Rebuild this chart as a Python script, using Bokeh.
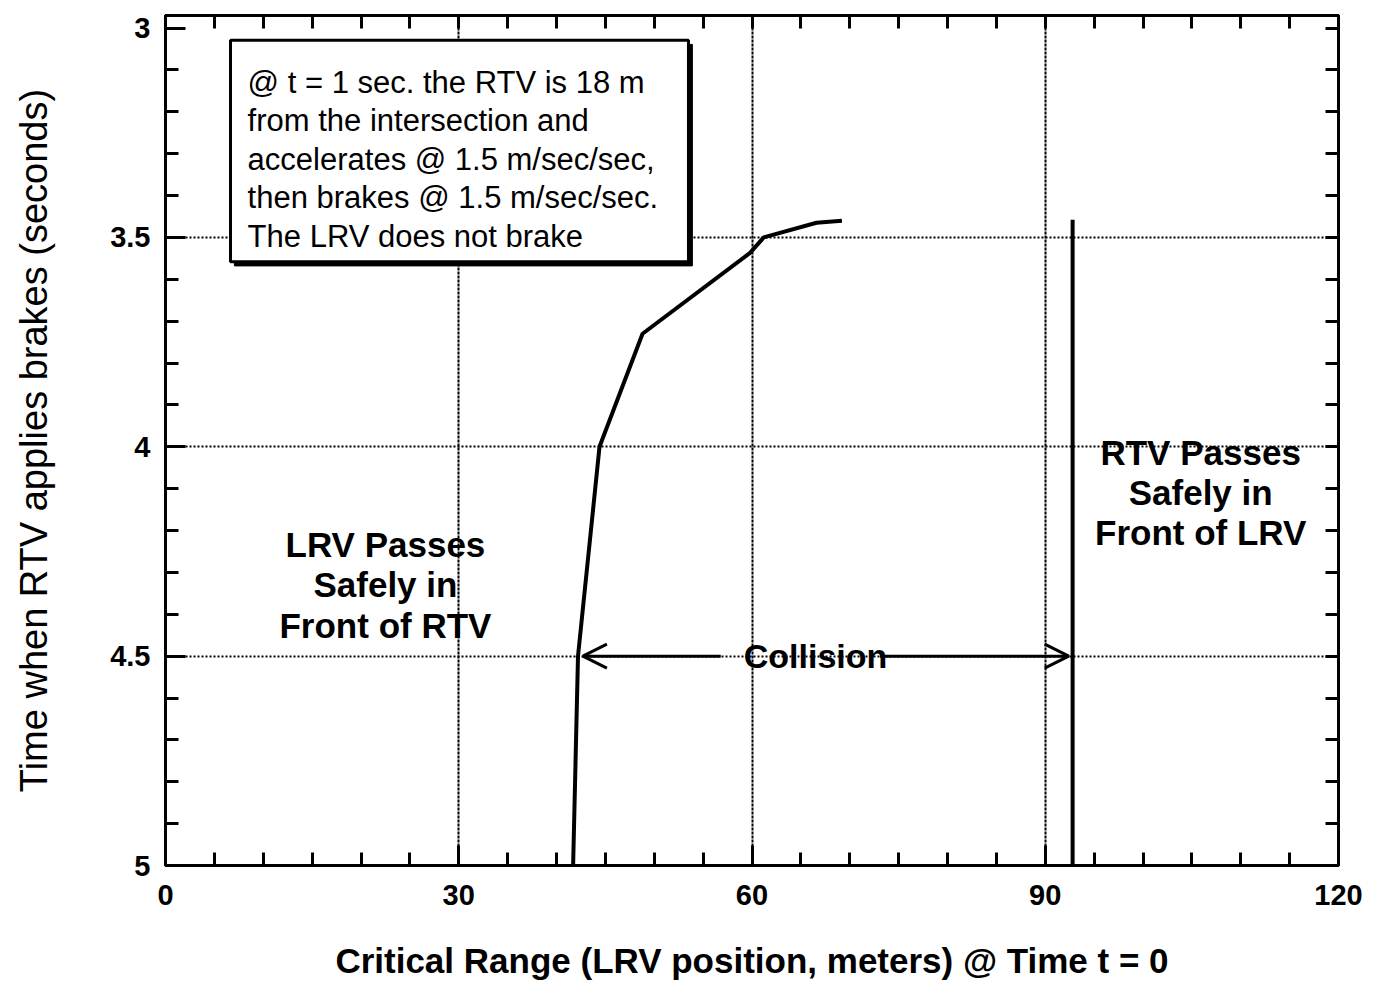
from bokeh.plotting import figure
from bokeh.models import Range1d, LinearAxis, FixedTicker, Arrow, OpenHead
from bokeh.core.properties import value
from bokeh.embed import file_html
from bokeh.resources import INLINE

# ---- data ----
x_ticks = [0, 30, 60, 90, 120]
x_tick_labels = ["0", "30", "60", "90", "120"]
x_minor = [5, 10, 15, 20, 25, 35, 40, 45, 50, 55, 65, 70, 75, 80, 85, 95, 100, 105, 110, 115]
y_ticks = [3, 3.5, 4, 4.5, 5]
y_tick_labels = ["3", "3.5", "4", "4.5", "5"]
y_minor = [3.1, 3.2, 3.3, 3.4, 3.6, 3.7, 3.8, 3.9, 4.1, 4.2, 4.3, 4.4, 4.6, 4.7, 4.8, 4.9]
grid_x = [30, 60, 90]
grid_y = [3.5, 4, 4.5]

# collision boundary (LRV passes safely / collision)
boundary_x = [41.7, 42.2, 44.4, 48.8, 59.8, 61.2, 66.6, 69.2]
boundary_y = [5.0, 4.5, 4.0, 3.73, 3.537, 3.5, 3.465, 3.46]
# collision boundary (RTV passes safely)
rtv_x = [92.8, 92.8]
rtv_y = [5.0, 3.458]

note_lines = ["@ t = 1 sec. the RTV is 18 m",
              "from the intersection and",
              "accelerates @ 1.5 m/sec/sec,",
              "then brakes @ 1.5 m/sec/sec.",
              "The LRV does not brake"]
note_box = dict(left=6.65, right=53.5, top=3.029, bottom=3.558)
shadow_dx, shadow_dy = 0.4, 0.01

FONT = "Liberation Sans"

p = figure(width=1368, height=983, output_backend="svg", toolbar_location=None,
           x_range=Range1d(0, 120), y_range=Range1d(5, 2.97),
           min_border_left=165, min_border_right=30, min_border_top=15,
           min_border_bottom=118)
p.background_fill_color = "white"
p.border_fill_color = "white"
p.outline_line_color = "black"
p.outline_line_width = 3

# axes
xt = FixedTicker(ticks=x_ticks, minor_ticks=x_minor)
yt = FixedTicker(ticks=y_ticks, minor_ticks=y_minor)

ax = p.xaxis[0]
ax.ticker = xt
ax.major_label_overrides = {t: l for t, l in zip(x_ticks, x_tick_labels)}
ax.axis_label = "Critical Range (LRV position, meters) @ Time t = 0"
ax.axis_label_text_font = FONT
ax.axis_label_text_font_style = "bold"
ax.axis_label_text_font_size = "35px"
ax.axis_label_text_color = "black"
ax.axis_label_standoff = 33
ax.major_label_text_font = FONT
ax.major_label_text_font_style = "bold"
ax.major_label_text_font_size = "29px"
ax.major_label_text_color = "black"
ax.major_label_standoff = 19

ay = p.yaxis[0]
ay.ticker = yt
ay.major_label_overrides = {t: l for t, l in zip(y_ticks, y_tick_labels)}
ay.axis_label = "Time when RTV applies brakes (seconds)"
ay.axis_label_text_font = FONT
ay.axis_label_text_font_style = "normal"
ay.axis_label_text_font_size = "38px"
ay.axis_label_text_color = "black"
ay.axis_label_standoff = 52
ay.major_label_text_font = FONT
ay.major_label_text_font_style = "bold"
ay.major_label_text_font_size = "29px"
ay.major_label_text_color = "black"
ay.major_label_standoff = 15

for a in (ax, ay):
    a.axis_line_width = 3
    a.axis_line_color = "black"
    a.major_tick_in = 20
    a.major_tick_out = 0
    a.minor_tick_in = 13
    a.minor_tick_out = 0
    a.major_tick_line_width = 3
    a.minor_tick_line_width = 3
    a.major_tick_line_color = "black"
    a.minor_tick_line_color = "black"

# top and right axes: tick marks only (no labels)
top_axis = LinearAxis(ticker=FixedTicker(ticks=[], minor_ticks=x_ticks + x_minor),
                      axis_line_width=3, major_tick_in=0, major_tick_out=0,
                      minor_tick_in=13, minor_tick_out=0,
                      minor_tick_line_width=3, major_label_standoff=0)
right_axis = LinearAxis(ticker=FixedTicker(ticks=[], minor_ticks=y_ticks + y_minor),
                        axis_line_width=3, major_tick_in=0, major_tick_out=0,
                        minor_tick_in=13, minor_tick_out=0,
                        minor_tick_line_width=3, major_label_standoff=0)
p.add_layout(top_axis, "above")
p.add_layout(right_axis, "right")

# grids
p.xgrid.ticker = FixedTicker(ticks=grid_x)
p.ygrid.ticker = FixedTicker(ticks=grid_y)
p.xgrid.grid_line_color = "black"
p.xgrid.grid_line_width = 2
p.xgrid.grid_line_dash = "3 1"
p.ygrid.grid_line_color = "black"
p.ygrid.grid_line_width = 2
p.ygrid.grid_line_dash = "2 2"

# curves
p.line(boundary_x, boundary_y, line_color="black", line_width=4)
p.line(rtv_x, rtv_y, line_color="black", line_width=4)

# note box with shadow
p.quad(left=[note_box["left"] + shadow_dx], right=[note_box["right"] + shadow_dx],
       top=[note_box["top"] + shadow_dy], bottom=[note_box["bottom"] + shadow_dy],
       fill_color="black", line_color="black")
p.quad(left=[note_box["left"]], right=[note_box["right"]],
       top=[note_box["top"]], bottom=[note_box["bottom"]],
       fill_color="white", line_color="black", line_width=3)
p.text(x=[8.4], y=[3.088], text=["\n".join(note_lines)],
       text_font=value(FONT), text_font_size="31px", text_color="black",
       text_align="left", text_baseline="top", text_line_height=1.1)

# region labels
p.text(x=[22.5], y=[4.33], text=["LRV Passes\nSafely in\nFront of RTV"],
       text_font=value(FONT), text_font_size="35px", text_font_style="bold",
       text_color="black", text_align="center", text_baseline="middle",
       text_line_height=1.03)
p.text(x=[105.9], y=[4.11], text=["RTV Passes\nSafely in\nFront of LRV"],
       text_font=value(FONT), text_font_size="35px", text_font_style="bold",
       text_color="black", text_align="center", text_baseline="middle",
       text_line_height=1.03)
p.text(x=[66.5], y=[4.5], text=["Collision"],
       text_font=value(FONT), text_font_size="34px", text_font_style="bold",
       text_color="black", text_align="center", text_baseline="middle")

# collision arrows
p.add_layout(Arrow(end=OpenHead(size=24, line_width=3, line_color="black"),
                   x_start=56.8, y_start=4.5, x_end=42.7, y_end=4.5,
                   line_width=3, line_color="black"))
p.add_layout(Arrow(end=OpenHead(size=24, line_width=3, line_color="black"),
                   x_start=73.1, y_start=4.5, x_end=92.4, y_end=4.5,
                   line_width=3, line_color="black"))

open("out.html", "w").write(file_html(p, INLINE))
